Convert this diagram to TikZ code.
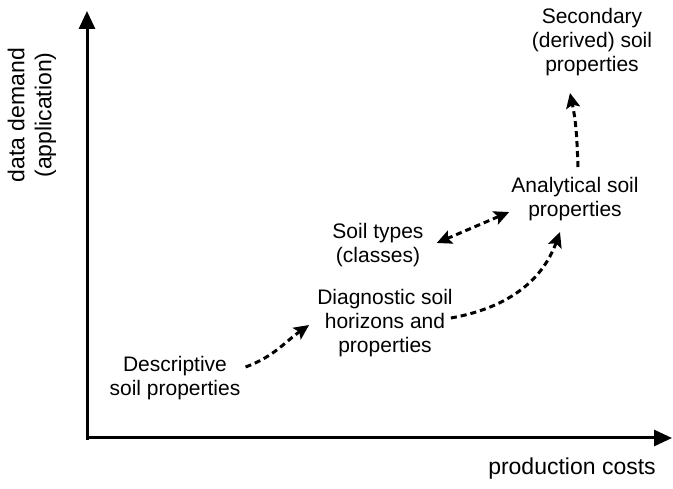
\documentclass[tikz,border=0pt]{standalone}
\usepackage{fontspec}
\setmainfont{Liberation Sans}
\usetikzlibrary{arrows.meta}

\tikzset{
  axis/.style={line width=3pt, -{Triangle[length=18pt,width=16pt]}},
  flow/.style={line width=3pt, dash pattern=on 6pt off 4pt, -{Stealth[length=15pt,width=14pt,inset=3pt]}},
  flowboth/.style={flow, {Stealth[length=15pt,width=14pt,inset=3pt]}-{Stealth[length=15pt,width=14pt,inset=3pt]}},
  lbl/.style={align=center, inner sep=3pt, font=\fontsize{21}{24}\selectfont},
  axlbl/.style={align=center, inner sep=3pt, font=\fontsize{23}{27}\selectfont}
}

\begin{document}
\begin{tikzpicture}[x=1pt,y=1pt]
		%%%%% START %%%%%
		\useasboundingbox (0,0) rectangle (673,488);
		
		\coordinate (o) at (87,50);
		\coordinate (ytip) at (87,477);
		\coordinate (xtip) at (672,50);
		\draw[axis] ([yshift=-2pt]o) -- (ytip);
		\draw[axis] (o) -- (xtip);
		
		\node[axlbl, rotate=90] (ylab) at (32,373) {data demand\\(application)};
		\node[axlbl] (xlab) at (572,19) {production costs};
		
		\node[lbl] (sec) at (592,446) {Secondary\\(derived) soil\\properties};
		\node[lbl] (anal) at (575,289) {Analytical soil\\properties};
		\node[lbl] (types) at (378,243) {Soil types\\(classes)};
		\node[lbl] (diag) at (385,165) {Diagnostic soil\\horizons and\\properties};
		\node[lbl] (desc) at (175,110) {Descriptive\\soil properties};
		
		\draw[flow] ([shift={(2,11)}]desc.east) to[out=20,in=215] ([shift={(-5,-2)}]diag.west);
		\draw[flow] ([shift={(-5,5)}]diag.east) to[out=10,in=250] ([shift={(-15,-8)}]anal.south);
		\draw[flowboth] ([shift={(10,2)}]types.east) -- ([shift={(1,-13)}]anal.west);
		\draw[flow] ([shift={(3,7)}]anal.north) to[out=92,in=-78] ([shift={(-22,-14)}]sec.south);
		
		%%%%% END %%%%%
\end{tikzpicture}
\end{document}
